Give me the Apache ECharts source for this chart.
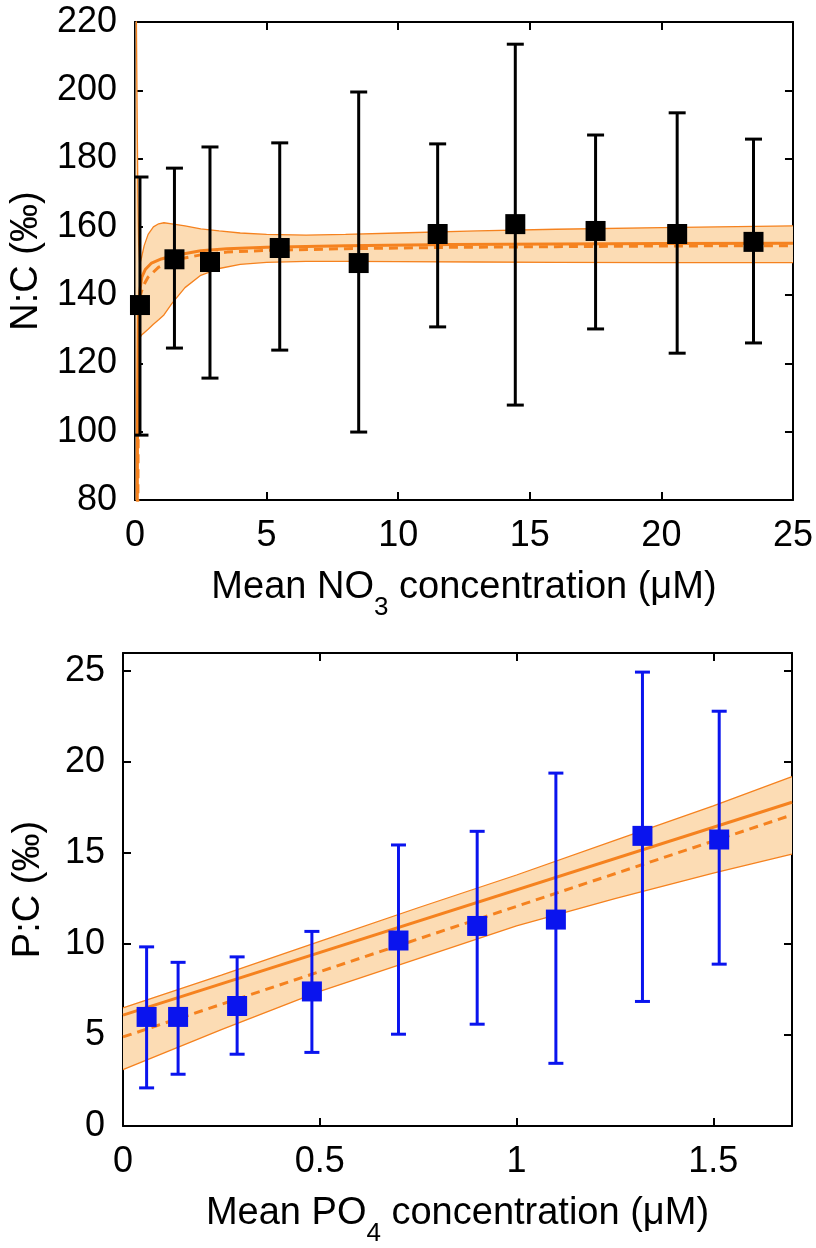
<!DOCTYPE html>
<html><head><meta charset="utf-8">
<script src="https://cdn.jsdelivr.net/npm/echarts@6/dist/echarts.min.js"></script>
<style>html,body{margin:0;padding:0;background:#fff}#c{width:816px;height:1248px}</style>
</head><body><div id="c"></div>
<script>
// ---------- Top panel: N:C vs NO3 ----------
const ncX    = [0.19, 1.5, 2.85, 5.5, 8.5, 11.5, 14.45, 17.5, 20.6, 23.5];
const ncY    = [137.1, 150.5, 149.7, 153.8, 149.4, 157.9, 160.8, 158.8, 157.9, 155.6];
const ncHigh = [174.6, 177.2, 183.4, 184.6, 199.5, 184.3, 213.5, 186.9, 193.4, 185.7];
const ncLow  = [99.0, 124.5, 115.7, 123.9, 99.9, 130.7, 107.8, 130.1, 123.0, 126.0];

const ncFitX  = [0.08, 0.1, 0.13, 0.18, 0.26, 0.4, 0.63, 1.0, 1.5, 2.5, 3.5, 5, 8, 12, 16, 20, 25];
const ncFitY  = [60, 110, 134, 141, 145.3, 147.6, 149.4, 150.6, 151.6, 153.0, 153.6, 154.0, 154.5, 154.8, 155.0, 155.1, 155.2];
const ncFit2X = [0.1, 0.13, 0.16, 0.19, 0.3, 0.5, 0.9, 1.5, 2.5, 3.5, 5, 8, 12, 16, 20, 25];
const ncFit2Y = [60, 115, 132, 139.5, 142.5, 145.3, 148.2, 150.3, 151.8, 152.6, 153.1, 153.6, 154.0, 154.2, 154.4, 154.5];

const ncBandX   = [0.02, 0.05, 0.08, 0.11, 0.14, 0.18, 0.25, 0.35, 0.5, 0.7, 0.9, 1.1, 1.4, 1.9, 2.5, 3.2, 4, 5, 6.5, 8, 10, 13, 16, 20, 25];
const ncBandUp  = [300, 225, 195, 170, 155, 149, 151, 154.5, 157.8, 160, 160.9, 161.2, 160.9, 160.3, 159.4, 158.8, 158.2, 157.8, 157.6, 157.8, 158.2, 158.8, 159.3, 159.8, 160.3];
const ncBandLow = [0, 40, 80, 110, 125, 127.5, 128.3, 129, 130, 131.5, 132.8, 134.2, 137.5, 142.2, 145.8, 147.8, 149, 149.6, 149.9, 149.9, 149.8, 149.7, 149.6, 149.5, 149.5];

// ---------- Bottom panel: P:C vs PO4 ----------
const pcX    = [0.06, 0.14, 0.29, 0.48, 0.70, 0.90, 1.10, 1.32, 1.515];
const pcY    = [6.0, 6.0, 6.6, 7.4, 10.2, 11.0, 11.35, 15.95, 15.75];
const pcHigh = [9.85, 9.0, 9.3, 10.7, 15.45, 16.2, 19.4, 24.95, 22.8];
const pcLow  = [2.1, 2.85, 3.95, 4.05, 5.05, 5.6, 3.45, 6.85, 8.9];

const pcFitX  = [0, 1.7];
const pcFitY  = [6.1, 17.8];
const pcFit2X = [0, 1.7];
const pcFit2Y = [4.9, 17.1];

const pcBandX   = [0, 0.25, 0.5, 0.75, 1.0, 1.25, 1.5, 1.7];
const pcBandUp  = [6.5, 8.3, 10.15, 12.0, 13.8, 15.7, 17.6, 19.2];
const pcBandLow = [3.1, 5.3, 7.4, 9.2, 11.0, 12.5, 13.9, 14.95];

// ---------- Axis ticks ----------
const ncXTicks = {min: 0, max: 25, interval: 5};
const ncYTicks = {min: 80, max: 220, interval: 20};
const pcXTicks = {min: 0, max: 1.7, interval: 0.5};
const pcYTicks = {min: 0, max: 26, interval: 5};

// ---------- Styling ----------
const FONT = 'Liberation Sans, Arial, Helvetica, sans-serif';
const ORANGE = '#f5821f';
const FILL = '#fcdcb4';
const BLUE = '#0a14ee';
const zip = (a, b) => a.map((v, i) => [v, b[i]]);

function axisBase(t, showLabel, pos, showMax) {
  return Object.assign({
    type: 'value', position: pos,
    splitLine: {show: false},
    axisLine: {show: true, onZero: false, lineStyle: {color: '#000', width: 2}},
    axisTick: {show: true, inside: true, length: 8, lineStyle: {color: '#000', width: 2}},
    axisLabel: {show: showLabel, color: '#000', fontSize: 36, fontFamily: FONT, margin: 18,
      showMaxLabel: showMax, showMinLabel: true, formatter: v => String(+(+v).toFixed(2))}
  }, t);
}

function errorBars(xi, yi, xs, lo, hi, color, cap, lw) {
  return {
    type: 'custom', xAxisIndex: xi, yAxisIndex: yi, z: 5, clip: true,
    encode: {x: 0, y: [1, 2]},
    data: xs.map((x, i) => [x, lo[i], hi[i]]),
    renderItem: (params, api) => {
      const a = api.coord([api.value(0), api.value(1)]);
      const b = api.coord([api.value(0), api.value(2)]);
      const h = cap / 2;
      const st = {stroke: color, lineWidth: lw};
      return {type: 'group', children: [
        {type: 'line', shape: {x1: a[0], y1: a[1], x2: b[0], y2: b[1]}, style: st},
        {type: 'line', shape: {x1: a[0] - h, y1: a[1], x2: a[0] + h, y2: a[1]}, style: st},
        {type: 'line', shape: {x1: b[0] - h, y1: b[1], x2: b[0] + h, y2: b[1]}, style: st}
      ]};
    }
  };
}

function band(xi, yi, xs, lo, up) {
  return [
    {type: 'custom', xAxisIndex: xi, yAxisIndex: yi, z: 1, clip: true, silent: true,
      encode: {x: 0, y: 1},
      data: [[xs[0], lo[0]]],
      renderItem: (params, api) => {
        const pts = [];
        for (let i = 0; i < xs.length; i++) pts.push(api.coord([xs[i], up[i]]));
        for (let i = xs.length - 1; i >= 0; i--) pts.push(api.coord([xs[i], lo[i]]));
        return {type: 'polygon', shape: {points: pts}, style: {fill: FILL, stroke: null}};
      }},
    {type: 'line', xAxisIndex: xi, yAxisIndex: yi, symbol: 'none', data: zip(xs, lo),
      lineStyle: {color: ORANGE, width: 1.3}, z: 2, silent: true},
    {type: 'line', xAxisIndex: xi, yAxisIndex: yi, symbol: 'none', data: zip(xs, up),
      lineStyle: {color: ORANGE, width: 1.3}, z: 2, silent: true}
  ];
}

function fitLine(xi, yi, xs, ys, dashed) {
  return {type: 'line', xAxisIndex: xi, yAxisIndex: yi, symbol: 'none', z: 3,
    data: zip(xs, ys), lineStyle: {color: ORANGE, width: 3, type: dashed ? [9, 6] : 'solid'}};
}

const titleRich = {
  a: {fontSize: 38, fontFamily: FONT, color: '#000', lineHeight: 40},
  s: {fontSize: 26, fontFamily: FONT, color: '#000', lineHeight: 20, padding: [40, 0, 0, 0]}
};

const option = {
  animation: false,
  backgroundColor: '#fff',
  grid: [
    {left: 123, top: 22, width: 670, height: 478},
    {left: 123, top: 653, width: 669, height: 478}
  ],
  xAxis: [
    axisBase(Object.assign({gridIndex: 0, name: '{a|Mean NO}{s|3}{a| concentration (μM)}',
      nameLocation: 'middle', nameGap: 57, nameTextStyle: {rich: titleRich}}, ncXTicks), true, 'bottom', true),
    axisBase(Object.assign({gridIndex: 0}, ncXTicks), false, 'top', true),
    axisBase(Object.assign({gridIndex: 1, name: '{a|Mean PO}{s|4}{a| concentration (μM)}',
      nameLocation: 'middle', nameGap: 57, nameTextStyle: {rich: titleRich}}, pcXTicks), true, 'bottom', false),
    axisBase(Object.assign({gridIndex: 1}, pcXTicks), false, 'top', false)
  ],
  yAxis: [
    axisBase(Object.assign({gridIndex: 0, name: 'N:C (‰)', nameLocation: 'middle', nameGap: 75,
      nameTextStyle: {fontSize: 38, fontFamily: FONT, color: '#000'}}, ncYTicks), true, 'left', true),
    axisBase(Object.assign({gridIndex: 0}, ncYTicks), false, 'right', true),
    axisBase(Object.assign({gridIndex: 1, name: 'P:C (‰)', nameLocation: 'middle', nameGap: 75,
      nameTextStyle: {fontSize: 38, fontFamily: FONT, color: '#000'}}, pcYTicks), true, 'left', false),
    axisBase(Object.assign({gridIndex: 1}, pcYTicks), false, 'right', false)
  ],
  series: [
    ...band(0, 0, ncBandX, ncBandLow, ncBandUp),
    fitLine(0, 0, ncFitX, ncFitY, false),
    fitLine(0, 0, ncFit2X, ncFit2Y, true),
    errorBars(0, 0, ncX, ncLow, ncHigh, '#000', 17, 3),
    {type: 'scatter', xAxisIndex: 0, yAxisIndex: 0, symbol: 'rect', symbolSize: 20, z: 6,
      itemStyle: {color: '#000', opacity: 1}, data: zip(ncX, ncY)},

    ...band(2, 2, pcBandX, pcBandLow, pcBandUp),
    fitLine(2, 2, pcFitX, pcFitY, false),
    fitLine(2, 2, pcFit2X, pcFit2Y, true),
    errorBars(2, 2, pcX, pcLow, pcHigh, BLUE, 15, 3),
    {type: 'scatter', xAxisIndex: 2, yAxisIndex: 2, symbol: 'rect', symbolSize: 20, z: 6,
      itemStyle: {color: BLUE, opacity: 1}, data: zip(pcX, pcY)}
  ]
};

const chart = echarts.init(document.getElementById('c'), null, {renderer: 'canvas'});
chart.setOption(option);
</script>
</body></html>
